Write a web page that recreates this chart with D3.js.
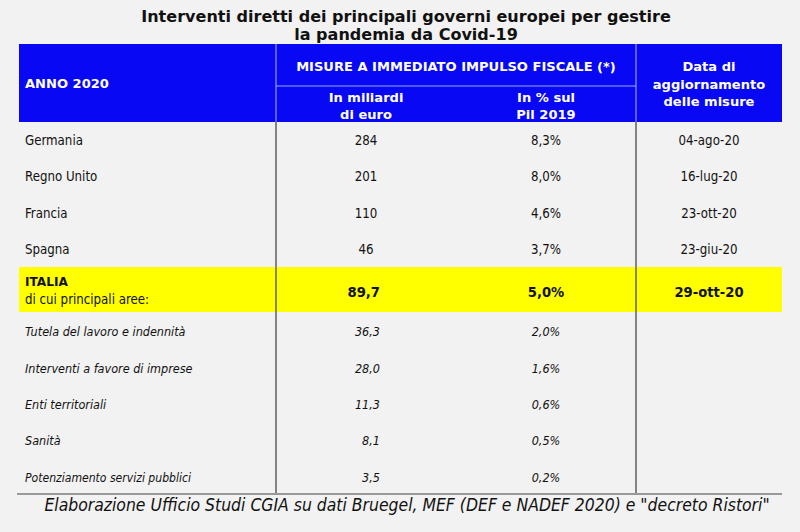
<!DOCTYPE html>
<html><head><meta charset="utf-8">
<script src="https://cdn.jsdelivr.net/npm/d3@7"></script>
<style>html,body{margin:0;padding:0;background:#f2f2f2;}svg{display:block;}</style>
</head><body>
<svg id="c" width="800" height="532"></svg>
<script>
// ---- data ----
const titleLines = ["Interventi diretti dei principali governi europei per gestire", "la pandemia da Covid-19"];
const headYear = "ANNO 2020";
const headGroup = "MISURE A IMMEDIATO IMPULSO FISCALE (*)";
const headBn = ["In miliardi", "di euro"];
const headPct = ["In % sul", "Pil 2019"];
const headDate = ["Data di", "aggiornamento", "delle misure"];
const countries = ["Germania", "Regno Unito", "Francia", "Spagna"];
const countryBn = [284, 201, 110, 46];
const countryPct = [8.3, 8.0, 4.6, 3.7];
const countryDates = ["04-ago-20", "16-lug-20", "23-ott-20", "23-giu-20"];
const italiaLabel = ["ITALIA", "di cui principali aree:"];
const italiaBn = [89.7];
const italiaPct = [5.0];
const italiaDate = ["29-ott-20"];
const areas = ["Tutela del lavoro e indennità", "Interventi a favore di imprese", "Enti territoriali", "Sanità", "Potenziamento servizi pubblici"];
const areaBn = [36.3, 28.0, 11.3, 8.1, 3.5];
const areaPct = [2.0, 1.6, 0.6, 0.5, 0.2];
const footer = "Elaborazione Ufficio Studi CGIA su dati Bruegel, MEF (DEF e NADEF 2020) e \"decreto Ristori\"";

// ---- layout ----
const svg = d3.select("#c");
const W = 800, H = 532;
const left = 19, right = 782;
const headTop = 44, headMid = 86, headBot = 122;
const countryBot = 267, italiaBot = 312, tableBot = 494;
const boldFont = "'DejaVu Sans', Verdana, sans-serif";
const bodyFont = "'DejaVu Sans Condensed', 'DejaVu Sans', Tahoma, sans-serif";

const x = d3.scaleOrdinal().domain(["label", "bn", "pct", "date", "end"]).range([left, 276, 456, 636, right]);
const colCenter = k => { const d = x.domain(); const i = d.indexOf(k); return (x(d[i]) + x(d[i + 1])) / 2; };

const yC = d3.scaleBand().domain(countries).range([headBot, countryBot]);
const yA = d3.scaleBand().domain(areas).range([italiaBot, tableBot]);

const f1 = v => d3.format(".1f")(v).replace(".", ",");
const fPct = v => f1(v) + "%";

function fit(sel, target) {
  const n = sel.node(); const fs = parseFloat(sel.attr("font-size"));
  const len = n.getComputedTextLength();
  const nfs = fs * target / len; sel.attr("font-size", nfs); return nfs;
}

svg.append("rect").attr("width", W).attr("height", H).attr("fill", "#f2f2f2");

// title
const t1 = svg.append("text").attr("x", 406).attr("y", 21.5).attr("text-anchor", "middle")
  .attr("font-family", boldFont).attr("font-weight", "bold").attr("font-size", 16).attr("fill", "#111").text(titleLines[0]);
const tfs = fit(t1, 530);
svg.append("text").attr("x", 406).attr("y", 40).attr("text-anchor", "middle")
  .attr("font-family", boldFont).attr("font-weight", "bold").attr("font-size", tfs).attr("fill", "#111").text(titleLines[1]);

// header
svg.append("rect").attr("x", left).attr("y", headTop).attr("width", right - left).attr("height", headBot - headTop).attr("fill", "#0808f4");
svg.append("line").attr("x1", x("bn")).attr("x2", x("date")).attr("y1", headMid).attr("y2", headMid).attr("stroke", "#9aa8ff").attr("stroke-width", 1);
[x("bn"), x("date")].forEach(xx => svg.append("line").attr("x1", xx).attr("x2", xx).attr("y1", headTop).attr("y2", headBot).attr("stroke", "#b0b8ff").attr("stroke-width", 1));

const hg = svg.append("text").attr("x", (x("bn") + x("date")) / 2).attr("y", 71).attr("text-anchor", "middle")
  .attr("font-family", boldFont).attr("font-weight", "bold").attr("font-size", 12).attr("fill", "#fff").text(headGroup);
const hfs = fit(hg, 320);
function htext(str, xx, yy, anchor) {
  return svg.append("text").attr("x", xx).attr("y", yy).attr("text-anchor", anchor || "middle")
    .attr("font-family", boldFont).attr("font-weight", "bold").attr("font-size", hfs).attr("fill", "#fff").text(str);
}
htext(headYear, 25, 88, "start");
headBn.forEach((s, i) => htext(s, colCenter("bn"), 102 + i * 16.5));
headPct.forEach((s, i) => htext(s, colCenter("pct"), 102 + i * 16.5));
headDate.forEach((s, i) => htext(s, colCenter("date"), 71 + i * 17.5));

// italia band
svg.append("rect").attr("x", left).attr("y", countryBot).attr("width", right - left).attr("height", italiaBot - countryBot).attr("fill", "#ffff00");

// body dividers
[x("bn"), x("date")].forEach(xx => svg.append("line").attr("x1", xx).attr("x2", xx).attr("y1", headBot).attr("y2", tableBot).attr("stroke", "#555").attr("stroke-width", 1.4));
svg.append("line").attr("x1", 17).attr("x2", right).attr("y1", tableBot).attr("y2", tableBot).attr("stroke", "#999").attr("stroke-width", 2);

// body text
const bfs = 13;
function btext(str, xx, yy, anchor, opts) {
  opts = opts || {};
  return svg.append("text").attr("x", xx).attr("y", yy).attr("text-anchor", anchor || "middle")
    .attr("font-family", opts.bold ? boldFont : bodyFont).attr("font-weight", opts.bold ? "bold" : "normal")
    .attr("font-style", opts.italic ? "italic" : "normal").attr("font-size", opts.size || bfs).attr("fill", "#111").text(str);
}
const g0 = btext(countries[0], 25, 0, "start");
const bodySize = fit(g0, 58); g0.remove();

countries.forEach((c, i) => {
  const yy = yC(c) + yC.bandwidth() / 2 + 5;
  btext(c, 25, yy, "start", { size: bodySize });
  btext(String(countryBn[i]), colCenter("bn"), yy, "middle", { size: bodySize });
  btext(fPct(countryPct[i]), colCenter("pct"), yy, "middle", { size: bodySize });
  btext(countryDates[i], colCenter("date"), yy, "middle", { size: bodySize });
});

// italia
btext(italiaLabel[0], 25, 286, "start", { bold: true, size: bodySize * 0.92 });
btext(italiaLabel[1], 25, 304, "start", { size: bodySize });
btext(f1(italiaBn[0]), 380, 297, "end", { bold: true, size: bodySize });
btext(fPct(italiaPct[0]), colCenter("pct"), 297, "middle", { bold: true, size: bodySize });
btext(italiaDate[0], colCenter("date"), 297, "middle", { bold: true, size: bodySize });

// areas
areas.forEach((a, i) => {
  const yy = yA(a) + yA.bandwidth() / 2 + 6;
  const lab = btext(a, 25, yy, "start", { italic: true, size: bodySize * 0.95 });
  if (i === areas.length - 1) fit(lab, 166);
  btext(f1(areaBn[i]), 380, yy, "end", { italic: true, size: bodySize * 0.95 });
  btext(fPct(areaPct[i]), colCenter("pct"), yy, "middle", { italic: true, size: bodySize * 0.95 });
});

// footer
const ft = svg.append("text").attr("x", 407).attr("y", 511).attr("text-anchor", "middle")
  .attr("font-family", bodyFont).attr("font-style", "italic").attr("font-size", 15).attr("fill", "#111").text(footer);
fit(ft, 726);
</script>
</body></html>
